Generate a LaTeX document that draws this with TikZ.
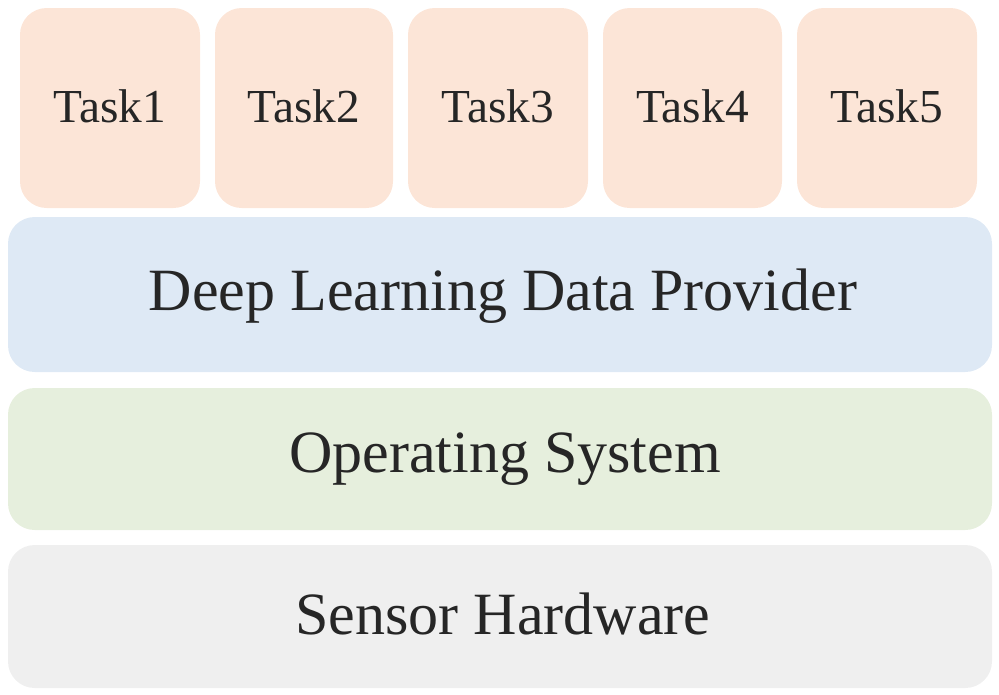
\documentclass[tikz,border=0pt]{standalone}
\usepackage{fontspec}
\setmainfont{Liberation Serif}
\begin{document}
\begin{tikzpicture}[x=0.75pt,y=-0.75pt,
  lbl/.style={font=\fontsize{45}{48}\selectfont,text=black!85},
  tlbl/.style={font=\fontsize{35.5}{38}\selectfont,text=black!85}]
\useasboundingbox (0,0) rectangle (999,694);
\definecolor{task}{HTML}{FCE5D7}
\definecolor{dl}{HTML}{DEE9F5}
\definecolor{os}{HTML}{E6EFDD}
\definecolor{hw}{HTML}{EFEFEF}
\foreach \i/\a/\b in {1/20/200,2/215/393,3/408/588,4/603/782,5/797/977}{
  \fill[task,rounded corners=20] (\a,8) rectangle (\b,208);
  \node[tlbl] (t\i) at ({(\a+\b)/2},106) {Task\i};
}
\fill[dl,rounded corners=20] (8,217) rectangle (992,372);
\node[lbl] (dlp) at (503,296) {Deep Learning Data Provider};
\fill[os,rounded corners=20] (8,388) rectangle (992,530);
\node[lbl] (ops) at (505,459) {Operating System};
\fill[hw,rounded corners=20] (8,545) rectangle (992,688);
\node[lbl] (sh) at (503,614) {Sensor Hardware};
\end{tikzpicture}
\end{document}
